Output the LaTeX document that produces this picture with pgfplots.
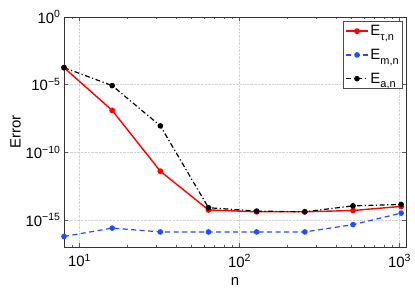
\documentclass[border=0pt]{standalone}
\usepackage{fontspec}
\setmainfont{Liberation Sans}
\usepackage{pgfplots}
\pgfplotsset{compat=1.18}
\definecolor{mblue}{rgb}{0.15,0.3,1}
\newcommand{\sub}[1]{\raisebox{-0.6ex}{\fontsize{11}{11}\selectfont #1}}
\begin{document}
\begin{tikzpicture}
\begin{axis}[
  scale only axis, width=342bp, height=230bp,
  xmode=log, ymode=log,
  xmin=8, xmax=1098, ymin=1e-17, ymax=1,
  xtick={10,100,1000},
  xticklabels={10\textsuperscript{1},10\textsuperscript{2},10\textsuperscript{3}},
  minor xtick={9,20,30,40,50,60,70,80,90,200,300,400,500,600,700,800,900},
  ytick={1e-15,1e-10,1e-5,1},
  yticklabels={10\textsuperscript{−15},10\textsuperscript{−10},10\textsuperscript{−5},10\textsuperscript{0}},
  minor ytick={},
  grid=major,
  major grid style={densely dotted, gray!35, line width=0.4pt},
  tick align=inside,
  major tick length=4bp, minor tick length=2.5bp,
  tick style={gray!70!black, line width=0.5pt},
  axis line style={gray!40!black, line width=0.6pt},
  ticklabel style={font=\fontsize{15}{15}\selectfont},
  xticklabel style={yshift=-4bp},
  xlabel={n}, ylabel={Error},
  label style={font=\fontsize{15}{15}\selectfont},
  xlabel style={yshift=-3bp},
  ylabel style={yshift=-2bp},
  legend style={at={(1,1)}, anchor=north east, xshift=-3bp, yshift=-4bp,
    draw=gray!60!black, line width=0.6pt, inner sep=2pt,
    font=\fontsize{15}{15}\selectfont, row sep=8bp,
    legend cell align=left},
  legend image code/.code={\draw[mark repeat=2,mark phase=2] plot coordinates {(0cm,0cm)(0.38cm,0cm)(0.76cm,0cm)};},
]
\addplot[red, line width=1.4pt, mark=*, mark size=2.2pt, mark options={solid}]
  coordinates {(8,1.8e-4)(16,1.25e-7)(32,4e-12)(64,5.5e-15)(128,4e-15)(256,4e-15)(512,5e-15)(1024,1e-14)};
\addlegendentry{E\sub{τ,n}}
\addplot[mblue, line width=1.2pt, dash pattern=on 5bp off 3.5bp, mark=*, mark size=2.2pt, mark options={solid}]
  coordinates {(8,6e-17)(16,2.5e-16)(32,1.3e-16)(64,1.3e-16)(128,1.3e-16)(256,1.3e-16)(512,4.5e-16)(1024,3.2e-15)};
\addlegendentry{E\sub{m,n}}
\addplot[black, line width=1.2pt, dash pattern=on 5bp off 2.5bp on 1.2bp off 2.5bp, mark=*, mark size=2.2pt, mark options={solid}]
  coordinates {(8,1.8e-4)(16,8.5e-6)(32,9e-9)(64,8e-15)(128,4.5e-15)(256,4e-15)(512,1.1e-14)(1024,1.4e-14)};
\addlegendentry{E\sub{a,n}}
\end{axis}
\pgfresetboundingbox
\path ([xshift=-64bp,yshift=-44bp]current axis.south west) rectangle ([xshift=9bp,yshift=17bp]current axis.north east);
\end{tikzpicture}
\end{document}
